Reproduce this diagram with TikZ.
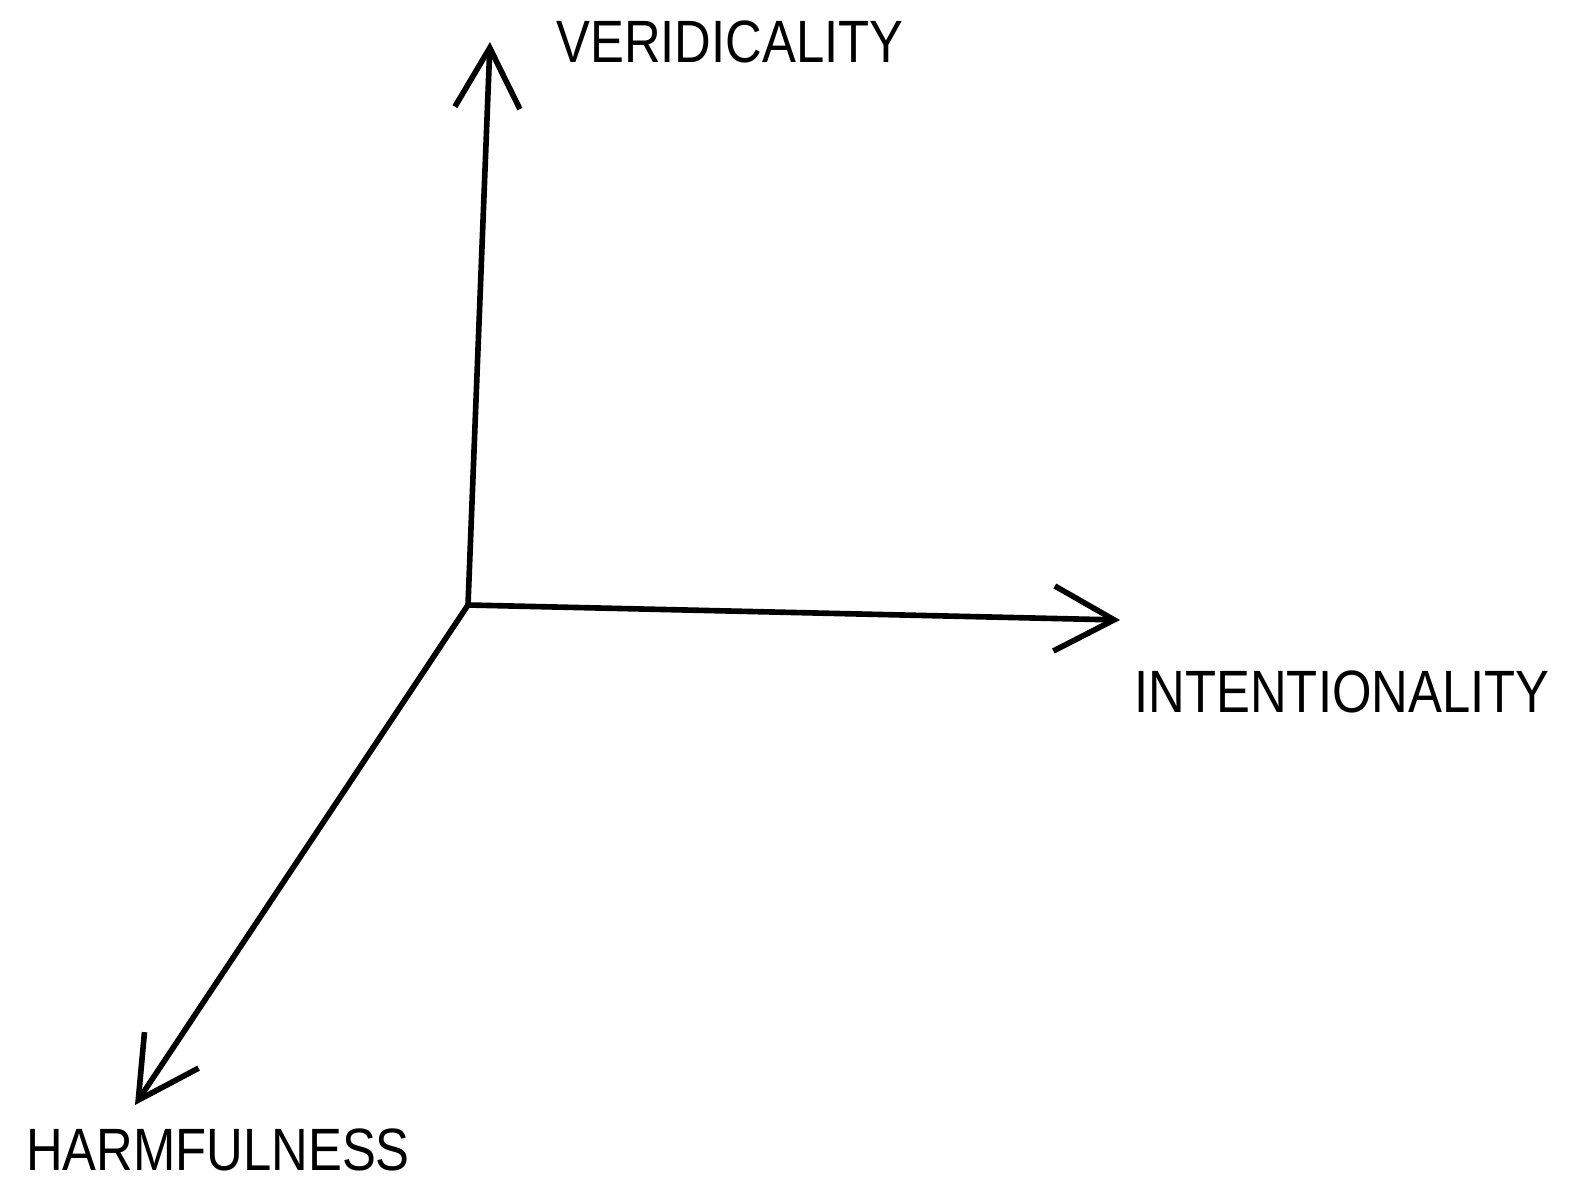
\documentclass[tikz,border=0pt]{standalone}
\usepackage{fontspec}
\setsansfont{Liberation Sans}
\usetikzlibrary{arrows.meta}

\begin{document}
\begin{tikzpicture}[scale=1, transform shape]
    % Define colours
    \definecolor{penColour}{HTML}{000000}

    % Define styles
    \tikzset{
        axisLine/.style={draw=penColour, line width=1.6pt, line cap=round,
            -{Straight Barb[length=6mm, width=6.5mm, line width=1.6pt]}},
        axisLabel/.style={font=\sffamily\fontsize{17}{20}\selectfont, text=penColour,
            xscale=0.85, inner sep=1pt}
    }

    % Fix the page size
    \useasboundingbox (0,0) rectangle (15.70,11.82);

    % Define coordinates for the origin and the axis ends
    \coordinate (origin) at (4.68,5.77);
    \coordinate (vTop) at (4.90,11.40);
    \coordinate (iEnd) at (11.20,5.62);
    \coordinate (hEnd) at (1.35,0.77);

    % Draw axes
    \draw[axisLine] (origin) -- (vTop);
    \draw[axisLine] (origin) -- (iEnd);
    \draw[axisLine] (origin) -- (hEnd);

    % Label the axes
    \node[axisLabel] (veridicality) at (7.30,11.40) {VERIDICALITY};
    \node[axisLabel] (intentionality) at (13.42,4.90) {INTENTIONALITY};
    \node[axisLabel] (harmfulness) at (2.18,0.32) {HARMFULNESS};

\end{tikzpicture}
\end{document}
